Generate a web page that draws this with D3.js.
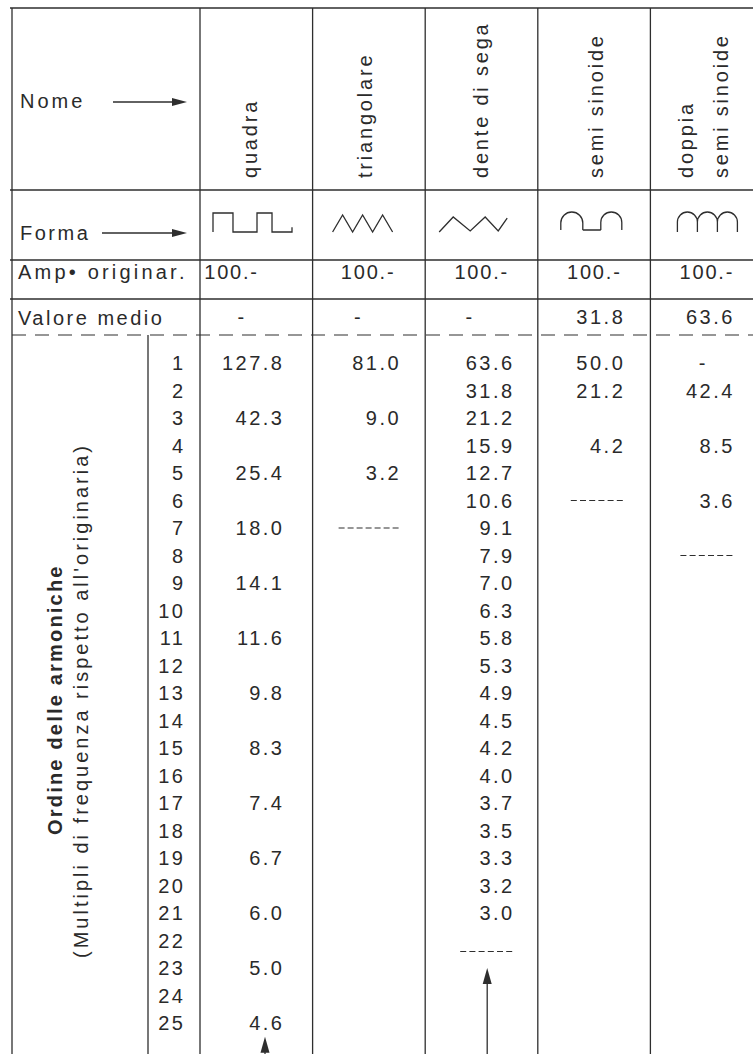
<!DOCTYPE html>
<html>
<head>
<meta charset="utf-8">
<script src="https://cdn.jsdelivr.net/npm/d3@7"></script>
<style>
  html, body { margin: 0; padding: 0; background: #fff; }
  svg { display: block; }
  text { font-family: "Liberation Sans", Arial, Helvetica, sans-serif; fill: #2a2a2a; }
</style>
</head>
<body>
<svg id="chart" width="753" height="1054"></svg>
<script>
// ---------------- DATA ----------------
const columns = ["quadra", "triangolare", "dente di sega", "semi sinoide", "doppia semi sinoide"];
const columnLabelLines = [["quadra"], ["triangolare"], ["dente di sega"], ["semi sinoide"], ["doppia", "semi sinoide"]];
const rowLabels = ["Nome", "Forma", "Amp\u2022 originar.", "Valore medio"];
const ampOriginaria = ["100.-", "100.-", "100.-", "100.-", "100.-"];
const valoreMedio = ["-", "-", "-", "31.8", "63.6"];
const harmonicOrders = [1,2,3,4,5,6,7,8,9,10,11,12,13,14,15,16,17,18,19,20,21,22,23,24,25];
const quadraValues = ["127.8", null, "42.3", null, "25.4", null, "18.0", null, "14.1", null, "11.6", null, "9.8", null, "8.3", null, "7.4", null, "6.7", null, "6.0", null, "5.0", null, "4.6"];
const triangolareValues = ["81.0", null, "9.0", null, "3.2"];
const denteValues = ["63.6", "31.8", "21.2", "15.9", "12.7", "10.6", "9.1", "7.9", "7.0", "6.3", "5.8", "5.3", "4.9", "4.5", "4.2", "4.0", "3.7", "3.5", "3.3", "3.2", "3.0"];
const semiValues = ["50.0", "21.2", null, "4.2"];
const doppiaValues = ["-", "42.4", null, "8.5", null, "3.6"];
const seriesValues = [quadraValues, triangolareValues, denteValues, semiValues, doppiaValues];
// row (harmonic order) at which each column's list is closed with a dashed mark
const endMarkRow = [null, 7, 22.4, 6, 8];
// row positions of the "continues" arrow tips (quadra, dente di sega)
const arrowTipRow = [25.5, 23.0];
const axisTitle = "Ordine delle armoniche";
const axisSubtitle = "(Multipli di frequenza rispetto all'originaria)";

// waveform icons, normalised (0..1) shapes
const squareWave = [[0,1],[0,0],[0.253,0],[0.253,1],[0.557,1],[0.557,0],[0.747,0],[0.747,1],[1,1],[1,0.75]];
const triangleWave = [[0,1],[1/6,0],[2/6,1],[3/6,0],[4/6,1],[5/6,0],[1,1]];
const sawWave = [[0,1],[0.206,0],[0.456,0.93],[0.676,0],[0.868,0.93],[1,0.07]];

// ---------------- LAYOUT ----------------
const W = 753, H = 1054;
const FS = 20, LS = 2.5;
const svg = d3.select("#chart");
const ink = "#2e2e2e";

const xCol = d3.scaleBand().domain(columns).range([200, 763]);
const yRow = d3.scaleLinear().domain([1, 25]).range([363, 1023]);

const leftX = 12, numColX = 148;
const yTop = 8, yNome = 190, yForma = 260, yAmp = 299, yMedio = 335;

const lines = svg.append("g").attr("stroke", ink).attr("stroke-width", 1.3).attr("fill", "none");
// horizontal rules
[yTop, yNome, yForma, yAmp].forEach(y => {
  lines.append("line").attr("x1", leftX - 2).attr("x2", W).attr("y1", y).attr("y2", y);
});
lines.append("line").attr("x1", leftX).attr("x2", W).attr("y1", yMedio).attr("y2", yMedio)
  .attr("stroke-dasharray", "14 9").attr("stroke-width", 1.2);
// vertical rules
lines.append("line").attr("x1", leftX).attr("x2", leftX).attr("y1", yTop).attr("y2", H);
columns.forEach(c => {
  lines.append("line").attr("x1", xCol(c)).attr("x2", xCol(c)).attr("y1", yTop).attr("y2", H);
});
lines.append("line").attr("x1", numColX).attr("x2", numColX).attr("y1", yMedio).attr("y2", H);

function txt(sel, s) {
  return sel.append("text").text(s).attr("font-size", FS).attr("letter-spacing", LS);
}

// ----- row headers -----
txt(svg, rowLabels[0]).attr("x", 20).attr("y", 108).attr("letter-spacing", 3);
txt(svg, rowLabels[1]).attr("x", 20).attr("y", 240);
txt(svg, rowLabels[2]).attr("x", 18).attr("y", 279).attr("letter-spacing", 3.2);
txt(svg, rowLabels[3]).attr("x", 18).attr("y", 325);

// arrows in header rows
function hArrow(x1, x2, y) {
  lines.append("line").attr("x1", x1).attr("x2", x2 - 12).attr("y1", y).attr("y2", y);
  svg.append("path").attr("fill", ink)
    .attr("d", `M${x2},${y} L${x2 - 15},${y - 4} L${x2 - 15},${y + 4} Z`);
}
hArrow(113, 187, 102);
hArrow(102, 187, 233);

// ----- column headers (rotated) -----
const headerBaseline = [[57], [59], [63], [65], [43, 78]];
columns.forEach((c, i) => {
  columnLabelLines[i].forEach((ln, j) => {
    txt(svg, ln)
      .attr("letter-spacing", 2.8)
      .attr("transform", `translate(${xCol(c) + headerBaseline[i][j]},178) rotate(-90)`)
      .attr("text-anchor", "start");
  });
});

// ----- waveform icons -----
function polyIcon(points, x0, x1, y0, y1) {
  const sx = d3.scaleLinear().domain([0, 1]).range([x0, x1]);
  const sy = d3.scaleLinear().domain([0, 1]).range([y0, y1]);
  lines.append("path").attr("d", d3.line().x(d => sx(d[0])).y(d => sy(d[1]))(points));
}
polyIcon(squareWave, xCol(columns[0]) + 13, xCol(columns[0]) + 92, 213, 232);
polyIcon(triangleWave, xCol(columns[1]) + 20, xCol(columns[1]) + 80, 215, 232);
polyIcon(sawWave, xCol(columns[2]) + 14, xCol(columns[2]) + 82, 217, 232);
// arches
function arch(x0, x1, yT, yB) {
  const r = (x1 - x0) / 2;
  return `M${x0},${yB} V${yT + r} A${r},${r} 0 0 1 ${x1},${yT + r} V${yB}`;
}
{
  const x0 = xCol(columns[3]) + 23;
  lines.append("path").attr("d",
    arch(x0, x0 + 22, 212, 230) + ` M${x0 + 22},230 H${x0 + 40} ` + arch(x0 + 40, x0 + 61, 212, 230));
  const d0 = xCol(columns[4]) + 27;
  lines.append("path").attr("d",
    arch(d0, d0 + 20, 212, 232) + " " + arch(d0 + 20, d0 + 40, 212, 232) + " " + arch(d0 + 40, d0 + 60, 212, 232));
}

// ----- numbers -----
const numOffset = [82, 86, 87, 85, 82];
const ampOffset = [57, 81, 82, 82, 82];
const dashCenter = [42, 46, 45, null, 53];

columns.forEach((c, i) => {
  // ampiezza originaria
  txt(svg, ampOriginaria[i]).attr("letter-spacing", 1.8)
    .attr("x", xCol(c) + ampOffset[i] + 1.8).attr("y", 272).attr("dy", "0.35em")
    .attr("text-anchor", "end");
  // valore medio
  const vm = valoreMedio[i];
  if (vm === "-") {
    txt(svg, vm).attr("x", xCol(c) + dashCenter[i]).attr("y", 317).attr("dy", "0.35em").attr("text-anchor", "middle");
  } else {
    txt(svg, vm).attr("x", xCol(c) + numOffset[i] + LS).attr("y", 317).attr("dy", "0.35em").attr("text-anchor", "end");
  }
  // harmonic amplitudes
  seriesValues[i].forEach((v, k) => {
    if (v === null) return;
    const t = txt(svg, v).attr("y", yRow(harmonicOrders[k])).attr("dy", "0.35em");
    if (v === "-") t.attr("x", xCol(c) + dashCenter[i]).attr("text-anchor", "middle");
    else t.attr("x", xCol(c) + numOffset[i] + LS).attr("text-anchor", "end");
  });
  // closing dashed mark
  if (endMarkRow[i] !== null) {
    const right = xCol(c) + numOffset[i];
    const w = i === 1 ? 60 : 52;
    lines.append("line").attr("x1", right - w).attr("x2", right)
      .attr("y1", yRow(endMarkRow[i])).attr("y2", yRow(endMarkRow[i]))
      .attr("stroke-dasharray", i === 1 ? "6 3" : "6 3.2").attr("stroke-width", 1.2);
  }
});

// continuation arrows (bottom)
[[0, 65, arrowTipRow[0]], [2, 62, arrowTipRow[1]]].forEach(([i, off, row]) => {
  const x = xCol(columns[i]) + off;
  const tip = yRow(row);
  lines.append("line").attr("x1", x).attr("x2", x).attr("y1", tip + 12).attr("y2", H);
  svg.append("path").attr("fill", ink).attr("d", `M${x},${tip} L${x - 4.5},${tip + 16} L${x + 4.5},${tip + 16} Z`);
});

// harmonic order numbers
harmonicOrders.forEach(n => {
  txt(svg, String(n)).attr("x", 183 + LS).attr("y", yRow(n)).attr("dy", "0.35em").attr("text-anchor", "end");
});

// vertical axis titles
txt(svg, axisTitle).attr("font-weight", "bold").attr("letter-spacing", 2.2)
  .attr("transform", "translate(62,835) rotate(-90)");
txt(svg, axisSubtitle).attr("letter-spacing", 3.0)
  .attr("transform", "translate(88,958) rotate(-90)");
</script>
</body>
</html>
